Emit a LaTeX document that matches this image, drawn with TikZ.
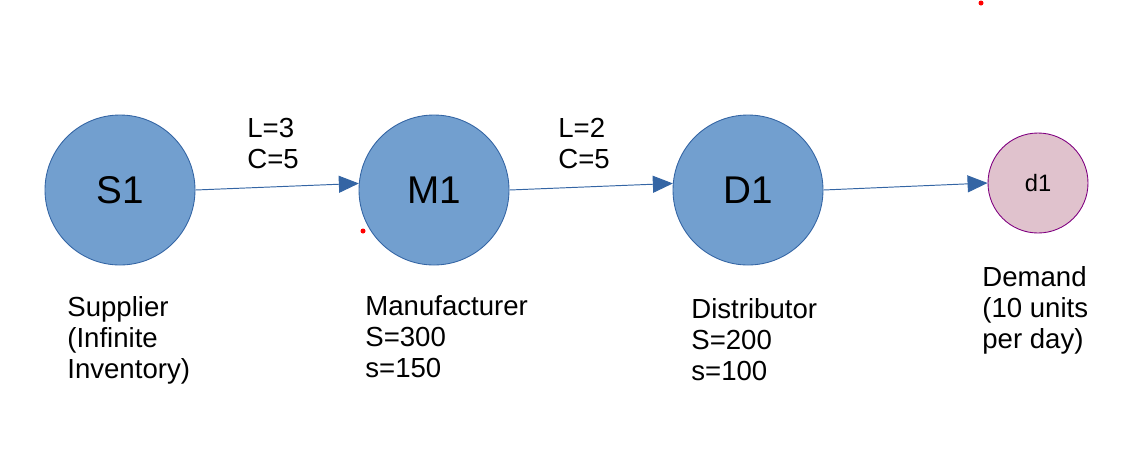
\documentclass[tikz,border=0pt]{standalone}
\usepackage{fontspec}
\setmainfont{Liberation Sans}
\usetikzlibrary{positioning, arrows.meta}

\begin{document}
\begin{tikzpicture}[
    stage/.style={
        circle,
        draw=arrowblue,
        fill=stagefill,
        minimum size=3cm,
        inner sep=0pt,
        line width=0.5pt,
        font=\fontsize{22}{26}\selectfont
    },
    sink/.style={
        circle,
        draw=sinkdraw,
        fill=sinkfill,
        minimum size=2cm,
        inner sep=0pt,
        line width=0.5pt,
        font=\fontsize{13.5}{16}\selectfont
    },
    arrow/.style={
        -{Triangle[length=0.4cm, width=0.34cm]},
        line width=0.55pt,
        color=arrowblue
    },
    lbl/.style={
        font=\fontsize{15.7}{17.6}\selectfont,
        align=left,
        inner sep=0pt,
        anchor=base west
    }
]
\definecolor{stagefill}{HTML}{729FCF}
\definecolor{arrowblue}{HTML}{3465A4}
\definecolor{sinkfill}{HTML}{E0C2CD}
\definecolor{sinkdraw}{HTML}{800080}

\useasboundingbox (0,0) rectangle (22.86,-9.08);

% Nodes
\node[stage] (s1) at (2.4,   -3.8)  {S1};
\node[stage] (m1) at (8.68,  -3.8)  {M1};
\node[stage] (d1) at (14.96, -3.8)  {D1};
\node[sink]  (dm) at (20.76, -3.66) {d1};

% Descriptions below the nodes (placed by the last line)
\node[lbl] (s1txt) at (1.34,  -7.56) {Supplier\\(Infinite\\Inventory)};
\node[lbl] (m1txt) at (7.3,   -7.54) {Manufacturer\\S=300\\s=150};
\node[lbl] (d1txt) at (13.82, -7.6)  {Distributor\\S=200\\s=100};
\node[lbl] (dmtxt) at (19.64, -6.96) {Demand\\(10 units\\per day)};

% Lead time / cost on the links
\node[lbl] (lc1) at (4.94,  -3.36) {L=3\\C=5};
\node[lbl] (lc2) at (11.16, -3.36) {L=2\\C=5};

% Links
\draw[arrow] (s1.east) -- (m1.175);
\draw[arrow] (m1.east) -- (d1.175);
\draw[arrow] (d1.east) -- (dm.west);

% stray marks
\fill[red] (7.26, -4.62) circle (0.05);
\fill[red] (19.62, -0.06) circle (0.05);

\end{tikzpicture}
\end{document}
